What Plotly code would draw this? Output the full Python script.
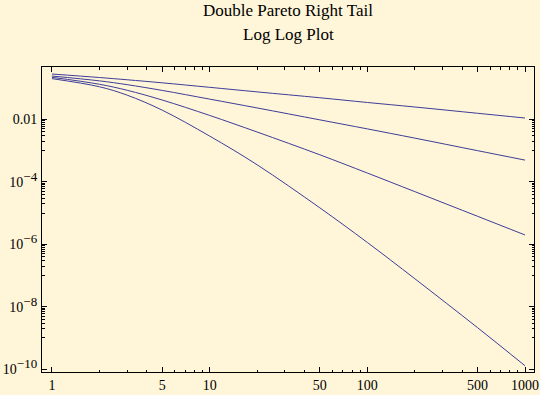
import plotly.graph_objects as go

# x sample points
x_vals = [1, 2, 3, 5, 10, 20, 50, 100, 200, 500, 1000]

# four right-tail curves
curve1 = [0.2871, 0.2218, 0.1879, 0.1500, 0.1076, 0.0769, 0.0498, 0.0352, 0.0252, 0.01585, 0.01117]
curve2 = [0.2477, 0.1734, 0.1309, 0.0857, 0.0451, 0.0235, 0.00975, 0.00501, 0.002535, 0.001005, 0.000501]
curve3 = [0.2254, 0.1349, 0.0865, 0.0422, 0.01355, 0.00398, 7.41e-4, 1.93e-4, 4.90e-5, 7.94e-6, 2.00e-6]
curve4 = [0.2042, 0.1122, 0.0603, 0.0200, 0.00295, 3.55e-4, 1.48e-5, 1.15e-6, 7.94e-8, 2.14e-9, 1.29e-10]

# ticks
x_major = [1, 5, 10, 50, 100, 500, 1000]
x_major_text = ["1", "5", "10", "50", "100", "500", "1000"]
x_minor = [2, 3, 4, 6, 7, 8, 9, 20, 30, 40, 60, 70, 80, 90, 200, 300, 400, 600, 700, 800, 900]
y_major = [1e-2, 1e-4, 1e-6, 1e-8, 1e-10]
SUP = '<sup><span style="font-size:13px">{}</span></sup>'
y_major_text = ["0.01", "10" + SUP.format("\u22124"), "10" + SUP.format("\u22126"),
                "10" + SUP.format("\u22128"), "10" + SUP.format("\u221210")]
y_minor = [j * 10.0 ** e for e in (-3, -5, -7, -9) for j in range(1, 10)]

BG = "#FFF5D8"
LINE = "#3d3d99"
FONT = "Liberation Serif, Times New Roman, serif"

fig = go.Figure()
for c in (curve1, curve2, curve3, curve4):
    fig.add_trace(go.Scatter(x=x_vals, y=c, mode="lines",
                             line=dict(color=LINE, width=1, shape="spline", smoothing=1.0),
                             showlegend=False, hoverinfo="skip"))

axis_common = dict(showgrid=False, zeroline=False, showline=True, linecolor="black",
                   linewidth=1, mirror="ticks", ticks="inside", tickcolor="black",
                   tickwidth=1, automargin=False,
                   tickfont=dict(family=FONT, size=14, color="black"))

fig.update_layout(
    width=540, height=395,
    margin=dict(l=42, r=6, t=67, b=23, autoexpand=False),
    paper_bgcolor=BG, plot_bgcolor=BG,
    font=dict(family=FONT, color="black"),
    xaxis=dict(type="log", range=[-0.063, 3.057], tickmode="array",
               tickvals=x_major, ticktext=x_major_text, ticklen=5,
               minor=dict(tickmode="array", tickvals=x_minor, ticks="inside",
                          ticklen=2.5, tickcolor="black", tickwidth=1),
               ticklabelstandoff=0,
               **axis_common),
    yaxis=dict(type="log", range=[-10.09, -0.317], tickmode="array",
               tickvals=y_major, ticktext=y_major_text, ticklen=5,
               minor=dict(tickmode="array", tickvals=y_minor, ticks="inside",
                          ticklen=2.5, tickcolor="black", tickwidth=1),
               ticklabelstandoff=1,
               **axis_common),
    annotations=[
        dict(text="Double Pareto Right Tail", xref="paper", yref="paper",
             x=0.5, y=(372 - 10) / 305, xanchor="center", yanchor="middle",
             showarrow=False, font=dict(family=FONT, size=17, color="black")),
        dict(text="Log Log Plot", xref="paper", yref="paper",
             x=0.5, y=(372 - 34) / 305, xanchor="center", yanchor="middle",
             showarrow=False, font=dict(family=FONT, size=17, color="black")),
    ],
)

fig.write_html("out.html", config={"displayModeBar": False},
               post_script="document.body.style.margin='0';document.body.style.background='%s';" % BG)
